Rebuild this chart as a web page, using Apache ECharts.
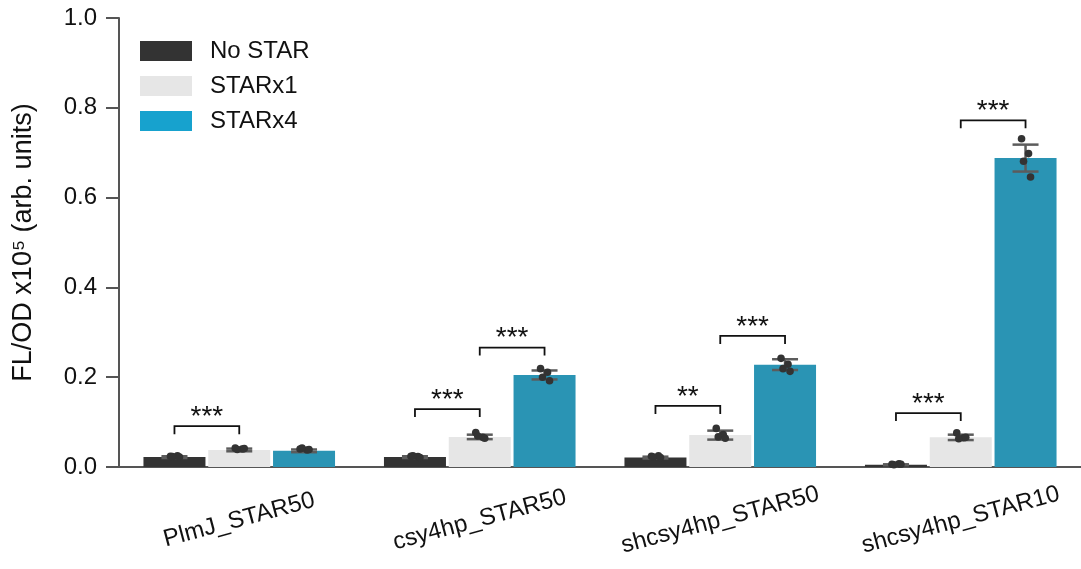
<!DOCTYPE html>
<html>
<head>
<meta charset="utf-8">
<script src="https://cdn.jsdelivr.net/npm/echarts@6/dist/echarts.min.js"></script>
<style>
html,body{margin:0;padding:0;background:#fff;}
#chart{width:1081px;height:569px;}
</style>
</head>
<body>
<div id="chart"></div>
<script>
// ---- data ----
const categories = ['PlmJ_STAR50', 'csy4hp_STAR50', 'shcsy4hp_STAR50', 'shcsy4hp_STAR10'];
const seriesNames = ['No STAR', 'STARx1', 'STARx4'];

const noStar = [0.022, 0.022, 0.021, 0.005];
const starX1 = [0.038, 0.067, 0.071, 0.066];
const starX4 = [0.036, 0.205, 0.228, 0.688];

const noStarErr = [0.002, 0.002, 0.002, 0.001];
const starX1Err = [0.003, 0.005, 0.010, 0.006];
const starX4Err = [0.003, 0.010, 0.012, 0.030];

const noStarPts = [[0.024, 0.025, 0.023, 0.022], [0.024, 0.023, 0.025, 0.021], [0.024, 0.025, 0.022, 0.021], [0.006, 0.007, 0.005, 0.006]];
const starX1Pts = [[0.042, 0.040, 0.039, 0.041], [0.077, 0.066, 0.069, 0.064], [0.086, 0.072, 0.067, 0.064], [0.076, 0.065, 0.063, 0.066]];
const starX4Pts = [[0.040, 0.038, 0.042, 0.039], [0.219, 0.211, 0.200, 0.192], [0.242, 0.229, 0.219, 0.213], [0.731, 0.698, 0.681, 0.646]];

// significance brackets
const sigCat   = [0, 1, 1, 2, 2, 3, 3];
const sigFrom  = [0, 0, 1, 0, 1, 0, 1];
const sigTo    = [1, 1, 2, 1, 2, 1, 2];
const sigY     = [0.091, 0.129, 0.266, 0.136, 0.292, 0.120, 0.772];
const sigLabel = ['***', '***', '***', '**', '***', '***', '***'];

// ---- style ----
const FONT = 'Liberation Sans, Arial, sans-serif';
const barColors = ['#333333', '#e6e6e6', '#2a94b4'];
const legendColors = ['#333333', '#e6e6e6', '#17a2ce'];
const BAR_W = 62;
const GAP_PCT = 4.5;
const STEP = BAR_W * (1 + GAP_PCT / 100);
const JITTER = [-4, 3, -2, 5];

const means = [noStar, starX1, starX4];
const errs = [noStarErr, starX1Err, starX4Err];
const pts = [noStarPts, starX1Pts, starX4Pts];

const errData = [];
for (let c = 0; c < categories.length; c++) {
  for (let s = 0; s < 3; s++) errData.push([c, s, means[s][c], errs[s][c]]);
}
const sigData = sigCat.map((c, i) => [c, sigFrom[i], sigTo[i], sigY[i], i]);

const chart = echarts.init(document.getElementById('chart'));

const option = {
  animation: false,
  backgroundColor: '#fff',
  textStyle: { fontFamily: FONT },
  grid: { left: 119, right: -5, top: 18, bottom: 102, containLabel: false },
  legend: {
    orient: 'vertical',
    left: 135,
    top: 34,
    icon: 'rect',
    itemWidth: 52,
    itemHeight: 20,
    itemGap: 11,
    textStyle: { fontFamily: FONT, fontSize: 24, color: '#111', padding: [0, 0, 0, 13] },
    data: seriesNames.map((n, i) => ({ name: n, itemStyle: { color: legendColors[i] } }))
  },
  xAxis: {
    type: 'category',
    data: categories,
    axisLine: { lineStyle: { color: '#555', width: 2 } },
    axisTick: { alignWithLabel: true, length: 13, lineStyle: { color: '#555', width: 2 } },
    axisLabel: {
      rotate: 15, align: 'center', verticalAlign: 'middle', margin: 53,
      fontFamily: FONT, fontSize: 24, color: '#111', interval: 0
    }
  },
  yAxis: {
    type: 'value',
    min: 0, max: 1, interval: 0.2,
    name: 'FL/OD x10\u2075 (arb. units)',
    nameLocation: 'middle',
    nameGap: 82,
    nameTextStyle: { fontFamily: FONT, fontSize: 27, color: '#111' },
    axisLine: { show: true, lineStyle: { color: '#555', width: 2 } },
    axisTick: { show: true, length: 13, lineStyle: { color: '#555', width: 2 } },
    axisLabel: { formatter: v => v.toFixed(1), fontFamily: FONT, fontSize: 24, color: '#111', margin: 22 },
    splitLine: { show: false }
  },
  series: [
    ...seriesNames.map((n, i) => ({
      name: n, type: 'bar', data: means[i], barWidth: BAR_W, barGap: GAP_PCT + '%',
      itemStyle: { color: barColors[i] }, z: 1
    })),
    {
      type: 'custom', z: 5, silent: true,
      data: errData,
      renderItem: function (params, api) {
        const c = api.value(0), s = api.value(1), m = api.value(2), e = api.value(3);
        const cx = api.coord([c, 0])[0] + (s - 1) * STEP;
        const yHi = api.coord([c, m + e])[1];
        const yLo = api.coord([c, m - e])[1];
        const cap = 13;
        const ls = { stroke: '#5c5c5c', lineWidth: 2.5 };
        const children = [
          { type: 'line', shape: { x1: cx, y1: yHi, x2: cx, y2: yLo }, style: ls },
          { type: 'line', shape: { x1: cx - cap, y1: yHi, x2: cx + cap, y2: yHi }, style: ls },
          { type: 'line', shape: { x1: cx - cap, y1: yLo, x2: cx + cap, y2: yLo }, style: ls }
        ];
        pts[s][c].forEach((v, k) => {
          const p = api.coord([c, v]);
          children.push({ type: 'circle', shape: { cx: cx + JITTER[k], cy: p[1], r: 3.8 }, style: { fill: '#333333' } });
        });
        return { type: 'group', children };
      }
    },
    {
      type: 'custom', z: 6, silent: true,
      data: sigData,
      renderItem: function (params, api) {
        const c = api.value(0), f = api.value(1), t = api.value(2), y = api.value(3), idx = api.value(4);
        const base = api.coord([c, 0])[0];
        const x1 = base + (f - 1) * STEP, x2 = base + (t - 1) * STEP;
        const yy = api.coord([c, y])[1];
        const leg = 8;
        return {
          type: 'group',
          children: [
            { type: 'polyline', shape: { points: [[x1, yy + leg], [x1, yy], [x2, yy], [x2, yy + leg]] },
              style: { stroke: '#111', lineWidth: 1.8, fill: null } },
            { type: 'text', style: { text: sigLabel[idx], x: (x1 + x2) / 2, y: yy + 5, align: 'center', verticalAlign: 'bottom',
              font: '28px ' + FONT, fill: '#111' } }
          ]
        };
      }
    }
  ]
};
chart.setOption(option);
</script>
</body>
</html>
